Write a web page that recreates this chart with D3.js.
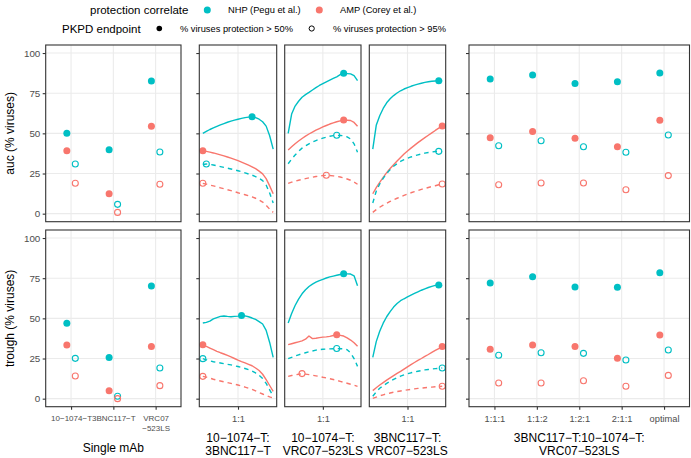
<!DOCTYPE html>
<html><head><meta charset="utf-8">
<script src="https://cdn.jsdelivr.net/npm/d3@7"></script>
<style>
body{margin:0;background:#fff;}
svg{display:block;font-family:"Liberation Sans",Arial,Helvetica,sans-serif;}
</style></head><body>
<svg id="chart" width="691" height="458"></svg>
<script>
// ---------------- DATA ----------------
const yTicks = [0, 25, 50, 75, 100];
const correlates = ["NHP (Pegu et al.)", "AMP (Corey et al.)"];
const endpointLabels = ["% viruses protection > 50%", "% viruses protection > 95%"];

// single mAbs
const singleMabs = ["10\u22121074\u2212T", "3BNC117\u2212T", "VRC07\n\u2212523LS"];
const single_auc_NHP50 = [50.0, 39.8, 82.6];
const single_auc_AMP50 = [39.2, 12.4, 54.4];
const single_auc_NHP95 = [30.9, 5.8, 38.4];
const single_auc_AMP95 = [18.9, 0.8, 18.3];
const single_trough_NHP50 = [46.9, 25.7, 70.1];
const single_trough_AMP50 = [33.4, 5.0, 32.4];
const single_trough_NHP95 = [25.1, 1.5, 19.1];
const single_trough_AMP95 = [14.1, 0.0, 8.1];

// pairs: ratio grid (position between first and second mAb), tick "1:1" at the centre
const pairTitles = ["10\u22121074\u2212T:\n3BNC117\u2212T", "10\u22121074\u2212T:\nVRC07\u2212523LS", "3BNC117\u2212T:\nVRC07\u2212523LS"];
const pairGrid = [0, 0.05, 0.1, 0.15, 0.2, 0.25, 0.3, 0.35, 0.4, 0.45, 0.5, 0.55, 0.6, 0.65, 0.7, 0.75, 0.8, 0.85, 0.9, 0.95, 1];
const pairTickValues = [0.5];
const pairTickLabels = ["1:1"];

const pair1_auc_NHP50 = [50.0, 51.2, 52.4, 53.4, 54.4, 55.3, 56.1, 56.9, 57.6, 58.2, 58.8, 59.3, 59.8, 60.1, 60.4, 59.8, 58.8, 57.2, 54.5, 48.5, 40.2];
const pair1_auc_AMP50 = [39.2, 38.8, 38.3, 37.8, 37.2, 36.6, 36.0, 35.3, 34.6, 33.8, 33.0, 32.1, 31.2, 30.2, 29.2, 28.0, 26.5, 24.8, 21.8, 17.3, 12.4];
const pair1_auc_NHP95 = [30.6, 30.9, 30.7, 30.3, 29.8, 29.3, 28.8, 28.3, 27.8, 27.3, 26.7, 26.1, 25.4, 24.7, 24.0, 23.1, 22.0, 20.6, 17.8, 12.8, 6.6];
const pair1_auc_AMP95 = [18.9, 18.4, 17.8, 17.3, 16.7, 16.1, 15.5, 14.9, 14.3, 13.7, 13.0, 12.4, 11.8, 11.2, 10.5, 9.6, 8.5, 7.2, 5.2, 2.8, 0.8];

const pair2_auc_NHP50 = [50.0, 62.0, 67.0, 70.0, 72.5, 74.1, 75.5, 77.0, 78.5, 79.8, 81.0, 82.1, 83.2, 84.2, 85.2, 86.5, 87.4, 87.2, 87.0, 85.9, 82.8];
const pair2_auc_AMP50 = [39.6, 41.6, 43.5, 45.2, 46.8, 48.3, 49.6, 50.8, 52.0, 53.0, 54.0, 54.9, 55.8, 56.5, 57.2, 57.8, 58.3, 58.2, 58.0, 56.8, 54.4];
const pair2_auc_NHP95 = [31.1, 34.0, 36.5, 38.8, 40.8, 42.2, 43.5, 44.6, 45.5, 46.3, 47.0, 47.6, 48.2, 48.6, 48.8, 48.7, 48.5, 47.8, 46.5, 43.5, 38.2];
const pair2_auc_AMP95 = [18.9, 19.6, 20.2, 20.8, 21.3, 21.8, 22.3, 22.7, 23.1, 23.4, 23.7, 23.9, 23.8, 23.5, 23.2, 22.8, 22.3, 21.6, 20.8, 19.7, 18.3];

const pair3_auc_NHP50 = [40.2, 55.0, 61.0, 65.5, 69.0, 71.5, 73.5, 75.1, 76.5, 77.6, 78.5, 79.3, 80.0, 80.6, 81.2, 81.7, 82.1, 82.4, 82.6, 82.8, 82.4];
const pair3_auc_AMP50 = [12.4, 16.2, 19.5, 22.6, 25.5, 28.1, 30.5, 32.8, 35.0, 37.1, 39.0, 40.8, 42.5, 44.2, 45.8, 47.3, 48.8, 50.3, 51.8, 53.2, 54.6];
const pair3_auc_NHP95 = [6.6, 14.0, 18.5, 22.0, 25.0, 27.4, 29.5, 31.1, 32.5, 33.6, 34.5, 35.3, 36.0, 36.6, 37.2, 37.7, 38.1, 38.4, 38.7, 38.8, 38.5];
const pair3_auc_AMP95 = [0.8, 2.5, 4.0, 5.3, 6.5, 7.6, 8.7, 9.6, 10.5, 11.4, 12.2, 13.0, 13.7, 14.4, 15.1, 15.7, 16.3, 16.9, 17.4, 18.0, 18.5];

const pair1_trough_NHP50 = [47.1, 47.5, 48.3, 49.7, 50.5, 51.2, 51.5, 51.2, 51.0, 51.2, 51.4, 51.7, 51.5, 51.0, 50.2, 49.3, 48.0, 46.5, 42.5, 35.0, 25.7];
const pair1_trough_AMP50 = [33.6, 32.5, 31.5, 30.5, 29.5, 28.6, 27.8, 26.9, 26.0, 25.0, 24.0, 23.1, 22.3, 21.4, 20.5, 19.1, 17.5, 15.2, 11.8, 8.2, 4.6];
const pair1_trough_NHP95 = [24.9, 24.2, 23.5, 23.0, 22.6, 22.2, 21.8, 21.4, 21.0, 20.5, 20.0, 19.4, 18.8, 18.1, 17.2, 16.0, 14.5, 12.5, 9.5, 5.5, 1.5];
const pair1_trough_AMP95 = [13.9, 13.4, 12.8, 12.1, 11.5, 11.0, 10.5, 10.0, 9.5, 9.0, 8.5, 7.9, 7.2, 6.5, 5.8, 4.8, 3.8, 2.9, 2.0, 1.1, 0.4];

const pair2_trough_NHP50 = [47.1, 53.0, 58.0, 62.0, 65.3, 67.8, 69.8, 71.3, 72.5, 73.5, 74.3, 75.1, 75.8, 76.3, 76.8, 77.3, 77.8, 77.7, 77.6, 76.5, 70.3];
const pair2_trough_AMP50 = [33.6, 34.2, 34.8, 35.4, 36.0, 37.0, 39.0, 37.4, 37.6, 38.0, 38.3, 38.5, 38.8, 39.3, 39.8, 39.4, 39.0, 37.8, 36.5, 34.8, 32.6];
const pair2_trough_NHP95 = [24.9, 25.7, 26.5, 27.3, 28.0, 28.6, 29.2, 29.7, 30.2, 30.5, 30.8, 30.9, 31.0, 31.1, 31.2, 31.1, 31.0, 30.5, 28.5, 25.0, 20.1];
const pair2_trough_AMP95 = [13.9, 14.4, 14.8, 15.2, 15.6, 15.3, 15.0, 14.6, 14.2, 13.8, 13.3, 12.9, 12.4, 11.9, 11.4, 10.8, 10.2, 9.6, 9.0, 8.4, 7.7];

const pair3_trough_NHP50 = [25.7, 35.5, 42.0, 47.0, 51.0, 54.2, 57.0, 59.2, 61.0, 62.2, 63.3, 64.4, 65.5, 66.5, 67.5, 68.4, 69.2, 69.9, 70.5, 70.7, 70.3];
const pair3_trough_AMP50 = [5.0, 6.8, 8.5, 10.0, 11.5, 12.9, 14.3, 15.7, 17.0, 18.4, 19.8, 21.2, 22.5, 23.8, 25.0, 26.3, 27.5, 28.8, 30.0, 31.2, 32.4];
const pair3_trough_NHP95 = [1.5, 4.2, 6.5, 8.1, 9.5, 10.8, 12.0, 13.0, 14.0, 14.8, 15.5, 16.1, 16.6, 17.1, 17.5, 17.9, 18.2, 18.5, 18.7, 18.9, 19.1];
const pair3_trough_AMP95 = [0.2, 1.0, 1.8, 2.4, 3.0, 3.5, 4.0, 4.4, 4.8, 5.2, 5.5, 5.8, 6.1, 6.4, 6.6, 6.8, 7.0, 7.2, 7.4, 7.6, 7.7];

// triple
const tripleTitle = "3BNC117\u2212T:10\u22121074\u2212T:\nVRC07\u2212523LS";
const tripleRatios = ["1:1:1", "1:1:2", "1:2:1", "2:1:1", "optimal"];
const triple_auc_NHP50 = [83.8, 86.3, 81.1, 82.2, 87.6];
const triple_auc_AMP50 = [47.3, 51.2, 46.9, 41.7, 58.1];
const triple_auc_NHP95 = [42.3, 45.4, 41.7, 38.2, 49.0];
const triple_auc_AMP95 = [18.0, 19.1, 19.1, 14.9, 23.7];
const triple_trough_NHP50 = [72.0, 75.9, 69.5, 69.3, 78.4];
const triple_trough_AMP50 = [30.7, 33.4, 32.4, 25.1, 39.6];
const triple_trough_NHP95 = [27.0, 28.6, 28.2, 24.1, 30.3];
const triple_trough_AMP95 = [9.8, 9.8, 11.2, 7.7, 14.5];

// ---------------- TABLES ----------------
const seriesKeys = [
  {key: "NHP50", corr: 0, thr: 0},
  {key: "AMP50", corr: 1, thr: 0},
  {key: "NHP95", corr: 0, thr: 1},
  {key: "AMP95", corr: 1, thr: 1}
];
const singleTable = {
  auc: {NHP50: single_auc_NHP50, AMP50: single_auc_AMP50, NHP95: single_auc_NHP95, AMP95: single_auc_AMP95},
  trough: {NHP50: single_trough_NHP50, AMP50: single_trough_AMP50, NHP95: single_trough_NHP95, AMP95: single_trough_AMP95}
};
const pairTable = {
  auc: [
    {NHP50: pair1_auc_NHP50, AMP50: pair1_auc_AMP50, NHP95: pair1_auc_NHP95, AMP95: pair1_auc_AMP95},
    {NHP50: pair2_auc_NHP50, AMP50: pair2_auc_AMP50, NHP95: pair2_auc_NHP95, AMP95: pair2_auc_AMP95},
    {NHP50: pair3_auc_NHP50, AMP50: pair3_auc_AMP50, NHP95: pair3_auc_NHP95, AMP95: pair3_auc_AMP95}],
  trough: [
    {NHP50: pair1_trough_NHP50, AMP50: pair1_trough_AMP50, NHP95: pair1_trough_NHP95, AMP95: pair1_trough_AMP95},
    {NHP50: pair2_trough_NHP50, AMP50: pair2_trough_AMP50, NHP95: pair2_trough_NHP95, AMP95: pair2_trough_AMP95},
    {NHP50: pair3_trough_NHP50, AMP50: pair3_trough_AMP50, NHP95: pair3_trough_NHP95, AMP95: pair3_trough_AMP95}]
};
const tripleTable = {
  auc: {NHP50: triple_auc_NHP50, AMP50: triple_auc_AMP50, NHP95: triple_auc_NHP95, AMP95: triple_auc_AMP95},
  trough: {NHP50: triple_trough_NHP50, AMP50: triple_trough_AMP50, NHP95: triple_trough_NHP95, AMP95: triple_trough_AMP95}
};

// ---------------- STYLE / LAYOUT ----------------
const W = 691, H = 458;
const COLORS = ["#00BFC4", "#F8766D"];
const GRID = "#EBEBEB", BORDER = "#333333", TICKTXT = "#4D4D4D";
const PT_R = 3.5, LINE_W = 1.4;
const TITLE_LINE = 13.4;
const rows = [
  {key: "auc", title: "auc (% viruses)", top: 45, bottom: 221.7},
  {key: "trough", title: "trough (% viruses)", top: 230, bottom: 406.7}
];
const singleX = [45.7, 181];
const pairX = [[199.3, 276.7], [284.7, 361], [369.3, 445.7]];
const tripleX = [469, 689.5];

const svg = d3.select("#chart");
svg.append("rect").attr("width", W).attr("height", H).attr("fill", "#fff");

function drawGrid(g, x0, x1, y, vlines) {
  g.selectAll(null).data(yTicks).join("line")
    .attr("x1", x0).attr("x2", x1).attr("y1", d => y(d)).attr("y2", d => y(d))
    .attr("stroke", GRID).attr("stroke-width", 1.1);
  g.selectAll(null).data(vlines).join("line")
    .attr("x1", d => d).attr("x2", d => d).attr("y1", y.range()[1]).attr("y2", y.range()[0])
    .attr("stroke", GRID).attr("stroke-width", 1.1);
}
function drawBorder(g, x0, x1, y) {
  g.append("rect").attr("x", x0).attr("y", y.range()[1]).attr("width", x1 - x0)
    .attr("height", y.range()[0] - y.range()[1]).attr("fill", "none")
    .attr("stroke", BORDER).attr("stroke-width", 1.1);
}
function drawYAxis(g, x0, y, withLabels) {
  const ax = d3.axisLeft(y).tickValues(yTicks).tickSize(3).tickPadding(2.4)
    .tickFormat(withLabels ? d3.format("d") : () => "");
  const a = g.append("g").attr("transform", `translate(${x0},0)`).call(ax);
  a.select(".domain").remove();
  a.selectAll(".tick line").attr("stroke", BORDER).attr("stroke-width", 1.1);
  a.selectAll(".tick text").attr("fill", TICKTXT).style("font-size", "9.8px")
    .style("font-family", '"Liberation Sans",Arial,sans-serif');
}
function drawXAxis(g, scale, y0, values, labels, fontSize) {
  const ax = d3.axisBottom(scale).tickValues(values).tickSize(3).tickFormat((d, i) => "");
  const a = g.append("g").attr("transform", `translate(0,${y0})`).call(ax);
  a.select(".domain").remove();
  a.selectAll(".tick line").attr("stroke", BORDER).attr("stroke-width", 1.1);
  a.selectAll(".tick text").each(function(d, i) {
    const t = d3.select(this).text(null).attr("y", 0).attr("dy", null)
      .attr("fill", TICKTXT).style("font-size", fontSize + "px")
      .style("font-family", '"Liberation Sans",Arial,sans-serif');
    String(labels[i]).split("\n").forEach((ln, k) => {
      t.append("tspan").attr("x", 0).attr("y", 11.6 + k * 10).attr("dy", "0.35em").text(ln);
    });
  });
}
function drawTitle(g, cx, yFirst, text, size) {
  const t = g.append("text").attr("text-anchor", "middle").attr("fill", "#000")
    .style("font-size", size + "px");
  text.split("\n").forEach((ln, k) => {
    t.append("tspan").attr("x", cx).attr("y", yFirst + k * TITLE_LINE).attr("dy", "0.35em").text(ln);
  });
}
function drawPoints(g, pts) {
  g.selectAll(null).data(pts).join("circle")
    .attr("cx", d => d.x).attr("cy", d => d.y)
    .attr("r", d => d.thr === 0 ? PT_R : PT_R - 0.5)
    .attr("fill", d => d.thr === 0 ? COLORS[d.corr] : "none")
    .attr("stroke", d => COLORS[d.corr])
    .attr("stroke-width", d => d.thr === 0 ? 0 : 1.1);
}

rows.forEach((row, ri) => {
  const y = d3.scaleLinear().domain([-5, 105]).range([row.bottom, row.top]);
  const isBottom = ri === rows.length - 1;
  const g = svg.append("g");

  // ---- single mAb panel ----
  const xs = d3.scalePoint().domain(singleMabs).range(singleX).padding(0.6);
  const dodge = xs.step() * 0.1;
  drawGrid(g, singleX[0], singleX[1], y, singleMabs.map(d => xs(d)));
  const sPts = [];
  seriesKeys.forEach(s => {
    singleTable[row.key][s.key].forEach((v, i) => {
      sPts.push({x: xs(singleMabs[i]) + (s.thr === 0 ? -dodge : dodge), y: y(v), corr: s.corr, thr: s.thr});
    });
  });
  drawPoints(g, sPts);
  drawBorder(g, singleX[0], singleX[1], y);
  drawYAxis(g, singleX[0], y, true);
  if (isBottom) drawXAxis(g, xs, row.bottom, singleMabs, singleMabs, 8);

  // y-axis title
  g.append("text").attr("transform", `translate(10,${(row.top + row.bottom) / 2}) rotate(-90)`)
    .attr("text-anchor", "middle").attr("dy", "0.35em").style("font-size", "12px")
    .attr("fill", "#000").text(row.title);

  // ---- pair panels ----
  pairX.forEach((px, pi) => {
    const x = d3.scaleLinear().domain([-0.05, 1.05]).range(px);
    drawGrid(g, px[0], px[1], y, pairTickValues.map(d => x(d)));
    const tbl = pairTable[row.key][pi];
    const line = d3.line().x((d, i) => x(pairGrid[i])).y(d => y(d));
    const pts = [];
    seriesKeys.forEach(s => {
      const vals = tbl[s.key];
      g.append("path").attr("d", line(vals)).attr("fill", "none")
        .attr("stroke", COLORS[s.corr]).attr("stroke-width", LINE_W)
        .attr("stroke-dasharray", s.thr === 0 ? null : "4.5,4")
        .attr("stroke-linejoin", "round");
      const im = d3.maxIndex(vals);
      pts.push({x: x(pairGrid[im]), y: y(vals[im]), corr: s.corr, thr: s.thr});
    });
    drawPoints(g, pts);
    drawBorder(g, px[0], px[1], y);
    if (pi === 0) drawYAxis(g, px[0], y, false);
    if (isBottom) {
      drawXAxis(g, x, row.bottom, pairTickValues, pairTickLabels, 9.3);
      drawTitle(g, (px[0] + px[1]) / 2, 437.8, pairTitles[pi], 12);
    }
  });

  // ---- triple panel ----
  const xt = d3.scalePoint().domain(tripleRatios).range(tripleX).padding(0.6);
  const dodgeT = xt.step() * 0.1;
  drawGrid(g, tripleX[0], tripleX[1], y, tripleRatios.map(d => xt(d)));
  const tPts = [];
  seriesKeys.forEach(s => {
    tripleTable[row.key][s.key].forEach((v, i) => {
      tPts.push({x: xt(tripleRatios[i]) + (s.thr === 0 ? -dodgeT : dodgeT), y: y(v), corr: s.corr, thr: s.thr});
    });
  });
  drawPoints(g, tPts);
  drawBorder(g, tripleX[0], tripleX[1], y);
  drawYAxis(g, tripleX[0], y, false);
  if (isBottom) {
    drawXAxis(g, xt, row.bottom, tripleRatios, tripleRatios, 9.3);
    drawTitle(g, (tripleX[0] + tripleX[1]) / 2, 437.8, tripleTitle, 12);
  }
});

// single mAb x title
drawTitle(svg, (singleX[0] + singleX[1]) / 2, 447.3, "Single mAb", 12);

// ---------------- LEGEND ----------------
const lg = svg.append("g");
const row1y = 10, row2y = 28.5;
lg.append("text").attr("x", 90).attr("y", row1y).attr("dy", "0.35em").style("font-size", "11.5px").text("protection correlate");
const corrX = [[207.3, 228], [319.3, 340]];
correlates.forEach((c, i) => {
  lg.append("circle").attr("cx", corrX[i][0]).attr("cy", row1y).attr("r", PT_R).attr("fill", COLORS[i]);
  lg.append("text").attr("x", corrX[i][1]).attr("y", row1y).attr("dy", "0.35em").style("font-size", "9.3px").text(c);
});
lg.append("text").attr("x", 62).attr("y", row2y).attr("dy", "0.35em").style("font-size", "11.5px").text("PKPD endpoint");
const epX = [[159.3, 180], [311.7, 333]];
endpointLabels.forEach((e, i) => {
  lg.append("circle").attr("cx", epX[i][0]).attr("cy", row2y).attr("r", i === 0 ? 2.8 : 2.6)
    .attr("fill", i === 0 ? "#000" : "none").attr("stroke", "#000").attr("stroke-width", i === 0 ? 0 : 1);
  lg.append("text").attr("x", epX[i][1]).attr("y", row2y).attr("dy", "0.35em").style("font-size", "9.3px").text(e);
});
</script>
</body></html>
